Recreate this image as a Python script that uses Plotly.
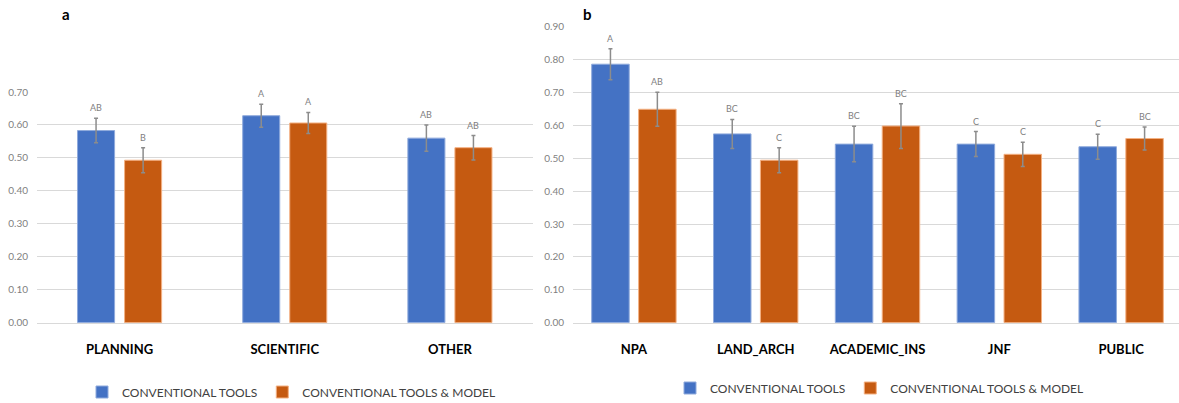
import plotly.graph_objects as go

# ---------------- data ----------------
cats_a = ["PLANNING", "SCIENTIFIC", "OTHER"]
conv_a = [0.583, 0.628, 0.560]
conv_a_err = [0.037, 0.035, 0.040]
model_a = [0.493, 0.606, 0.531]
model_a_err = [0.038, 0.032, 0.037]
letters_conv_a = ["AB", "A", "AB"]
letters_model_a = ["B", "A", "AB"]

cats_b = ["NPA", "LAND_ARCH", "ACADEMIC_INS", "JNF", "PUBLIC"]
conv_b = [0.786, 0.574, 0.543, 0.543, 0.535]
conv_b_err = [0.047, 0.044, 0.054, 0.038, 0.038]
model_b = [0.649, 0.494, 0.598, 0.512, 0.560]
model_b_err = [0.052, 0.038, 0.068, 0.037, 0.035]
letters_conv_b = ["A", "BC", "BC", "C", "C"]
letters_model_b = ["AB", "C", "BC", "C", "BC"]

y_ticks_a = [0.0, 0.1, 0.2, 0.3, 0.4, 0.5, 0.6, 0.7]
y_ticks_b = [0.0, 0.1, 0.2, 0.3, 0.4, 0.5, 0.6, 0.7, 0.8, 0.9]

series_names = ["CONVENTIONAL TOOLS", "CONVENTIONAL TOOLS & MODEL"]

# ---------------- style ----------------
FONT = "Lato"
BLUE = "#4472C4"
ORANGE = "#C55A11"
BLUE_EDGE = "#8FAADC"
ORANGE_EDGE = "#F4B183"
GRID = "#D9D9D9"
TICK_COL = "#7F7F7F"
ERR_COL = "#8C8C8C"

W, H = 1179, 403

# bar geometry in category units
geom_a = dict(width=37 / 165, off_blue=-42 / 165, off_orange=5 / 165)
geom_b = dict(width=37.5 / 121.8, off_blue=-42.2 / 121.8, off_orange=4.7 / 121.8)

fig = go.Figure()


def add_panel(cats, conv, conv_err, model, model_err, xa, ya, g, legend, lc, lm):
    fig.add_trace(go.Bar(
        x=cats, y=conv, name=series_names[0], xaxis=xa, yaxis=ya,
        width=g["width"], offset=g["off_blue"],
        marker=dict(color=BLUE, line=dict(color=BLUE_EDGE, width=1)),
        error_y=dict(type="data", array=conv_err, color=ERR_COL, thickness=1.5, width=2),
        legend=legend,
    ))
    fig.add_trace(go.Bar(
        x=cats, y=model, name=series_names[1], xaxis=xa, yaxis=ya,
        width=g["width"], offset=g["off_orange"],
        marker=dict(color=ORANGE, line=dict(color=ORANGE_EDGE, width=1)),
        error_y=dict(type="data", array=model_err, color=ERR_COL, thickness=1.5, width=2),
        legend=legend,
    ))
    xref = "x" if xa == "x" else "x2"
    yref = "y" if ya == "y" else "y2"
    for i in range(len(cats)):
        for val, err, lab, off in ((conv[i], conv_err[i], lc[i], g["off_blue"]),
                                   (model[i], model_err[i], lm[i], g["off_orange"])):
            fig.add_annotation(
                x=i + off + g["width"] / 2, y=val + err, xref=xref, yref=yref,
                text=lab, showarrow=False, yanchor="bottom", yshift=3,
                font=dict(family=FONT, size=9, color=TICK_COL),
            )


add_panel(cats_a, conv_a, conv_a_err, model_a, model_a_err, "x", "y", geom_a, "legend",
          letters_conv_a, letters_model_a)
add_panel(cats_b, conv_b, conv_b_err, model_b, model_b_err, "x2", "y2", geom_b, "legend2",
          letters_conv_b, letters_model_b)

y0 = (H - 322.7) / H
axis_common = dict(
    showgrid=True, gridcolor=GRID, gridwidth=1, zeroline=False,
    showline=False, tickformat=".2f",
    tickfont=dict(family=FONT, size=10, color=TICK_COL),
    ticks="", ticklabelstandoff=8,
)
xcommon = dict(
    type="category", showgrid=False, zeroline=False, showline=True, linecolor=GRID,
    ticks="", tickfont=dict(family=FONT, size=13, color="#000000", weight="bold"),
    ticklabelstandoff=15,
)
legend_common = dict(
    orientation="h", xanchor="left", yanchor="middle", traceorder="normal",
    font=dict(family=FONT, size=12, color="#404040"), bgcolor="rgba(0,0,0,0)",
    itemwidth=30,
)

fig.update_layout(
    width=W, height=H,
    margin=dict(l=0, r=0, t=0, b=0, autoexpand=False),
    paper_bgcolor="white", plot_bgcolor="white",
    barmode="overlay",
    font=dict(family=FONT, color="#404040"),
    xaxis=dict(domain=[37 / W, 532.5 / W], range=[-0.5, 2.5], anchor="y", **xcommon),
    yaxis=dict(domain=[y0, (H - 92) / H], range=[0, 0.7], tickvals=y_ticks_a,
               anchor="x", **axis_common),
    xaxis2=dict(domain=[573 / W, 1.0], range=[-0.5, 4.475], anchor="y2", **xcommon),
    yaxis2=dict(domain=[y0, (H - 26.7) / H], range=[0, 0.9], tickvals=y_ticks_b,
                anchor="x2", **axis_common),
    legend=dict(x=82 / W, y=(H - 392) / H, **legend_common),
    legend2=dict(x=670 / W, y=(H - 388) / H, **legend_common),
    showlegend=True,
)

fig.add_annotation(x=60 / W, y=(H - 14) / H, xref="paper", yref="paper", text="<b>a</b>",
                   showarrow=False, xanchor="left", yanchor="middle",
                   font=dict(family=FONT, size=15, color="#000000"))
fig.add_annotation(x=581 / W, y=(H - 14) / H, xref="paper", yref="paper", text="<b>b</b>",
                   showarrow=False, xanchor="left", yanchor="middle",
                   font=dict(family=FONT, size=15, color="#000000"))

fig.write_html("out.html")
